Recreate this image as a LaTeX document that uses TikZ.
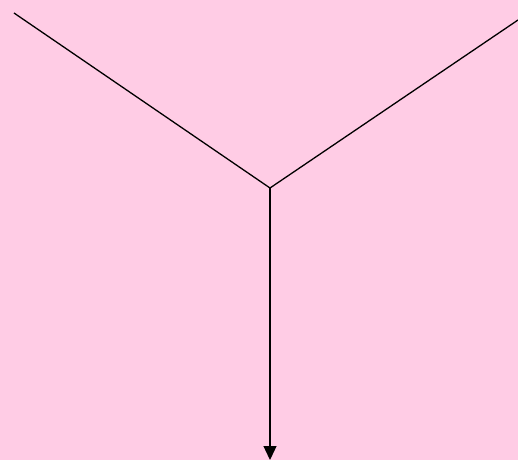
\documentclass[tikz,border=0pt]{standalone}
\usetikzlibrary{arrows.meta}
\definecolor{bgpink}{RGB}{255,204,229}
\tikzset{edge/.style={draw=black,line width=1.3pt},
arr/.style={-{Triangle[length=14pt,width=13pt]}}}
\begin{document}
\begin{tikzpicture}[x=1pt,y=-1pt]
\fill[bgpink] (0,0) rectangle (518,460);
\useasboundingbox (0,0) rectangle (518,460);
\coordinate (a) at (14,13);
\coordinate (b) at (518,20);
\coordinate (j) at (270,188);
\coordinate (e) at (270,460);
\draw[edge] (a) -- (j);
\draw[edge] (b) -- (j);
\draw[edge,arr] (j) -- (e);
\end{tikzpicture}
\end{document}
